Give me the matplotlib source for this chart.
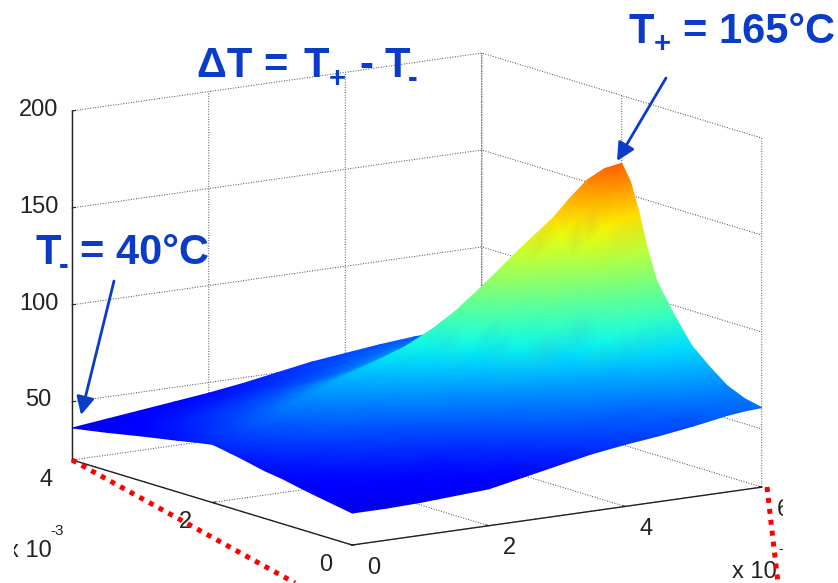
import numpy as np
import matplotlib
matplotlib.use('Agg')
import matplotlib.pyplot as plt
from matplotlib.collections import TriMesh
from matplotlib.patches import Rectangle
from matplotlib.tri import Triangulation
from mpl_toolkits.mplot3d import proj3d

# values (x and y in units of 1e-3)
x_vals = [0, 0.5, 1, 1.5, 2, 2.5, 3, 3.5, 4, 4.5, 5, 5.25, 5.5, 5.75, 6]
y_vals = [0, 0.25, 0.5, 0.75, 1, 1.25, 1.5, 1.625, 1.75, 1.875, 2, 2.25, 2.5, 3, 3.5, 4]
temps = [
    [36.5, 38.1, 39.7, 41.4, 43.3, 44.6, 46.6, 47.6, 48.4, 49.3, 50, 48.4, 46.6, 43.3, 39.7, 36.5],
    [36.5, 38.7, 40.9, 43.2, 45.9, 48, 51, 52.5, 53.8, 55.3, 56.5, 54.1, 51.5, 47, 42.5, 38.5],
    [37, 39.6, 42.2, 45.1, 48.4, 51.3, 55.2, 57.3, 59.1, 61.2, 63, 59.6, 56.3, 50.4, 45, 40.5],
    [38, 40.8, 43.6, 46.8, 50.6, 54.1, 58.9, 61.6, 63.9, 66.5, 69, 64.6, 60.4, 53.2, 47.3, 42.5],
    [39, 42, 44.9, 48.6, 52.7, 57.1, 63, 66.4, 69.3, 72.7, 76, 70.3, 65, 56.2, 49.5, 44.5],
    [42.5, 45.3, 48.2, 52, 56.1, 60.9, 67.2, 70.9, 74.5, 78.2, 82, 75.4, 68.9, 59.1, 52.1, 47],
    [46, 48.6, 51.5, 55.4, 59.6, 64.7, 71.5, 75.8, 80, 84.3, 88.5, 80.8, 73.1, 62.3, 55, 50],
    [49.5, 52.1, 55.2, 59.4, 64.1, 70.1, 78, 83.2, 88.9, 94.3, 99, 89.6, 79.5, 66.6, 58.3, 53],
    [52, 54.7, 58.1, 63, 68.5, 75.8, 85.6, 92.3, 100.2, 107.5, 113, 100.8, 86.9, 70.7, 60.8, 55],
    [54, 56.7, 60.7, 66.2, 72.5, 81.8, 93.2, 101.7, 112.1, 121.3, 128, 112.7, 94.6, 74.8, 63.4, 57],
    [56.5, 59.1, 63.3, 69.3, 76.2, 87.3, 100.1, 110.4, 123.2, 134.3, 142, 123.6, 101.1, 77.7, 65.2, 58.5],
    [58, 60.5, 65, 71.4, 78.6, 90.7, 104.5, 116.1, 130.5, 142.9, 151, 130.8, 105, 79.4, 65.9, 59],
    [59.5, 62, 66.5, 73.1, 80.9, 93.8, 108.3, 121.2, 137.1, 150.5, 159, 137.2, 108.5, 81.3, 66.9, 60],
    [60.5, 62.8, 67.2, 73.9, 81.8, 95.2, 109.9, 123.8, 140.8, 155, 163.5, 140.8, 109.9, 81.8, 67.2, 60.5],
    [61, 63, 67, 74, 82, 95, 110, 124, 142, 157, 165, 142, 110, 82, 67, 61],
]
x_ticks = [0, 2, 4, 6]
y_ticks = [0, 2, 4]
z_ticks = [50, 100, 150, 200]

BLUE = '#0a3cc8'
INK = '#222222'

plt.rcParams['font.family'] = ['Liberation Sans', 'DejaVu Sans']
plt.rcParams['grid.linestyle'] = ':'
plt.rcParams['grid.linewidth'] = 0.7
plt.rcParams['grid.color'] = '#444444'

fig = plt.figure(figsize=(8.38, 5.83), dpi=100)
ax = fig.add_axes([24.5 / 838, -108.5 / 583, 764.3 / 838, 764.3 / 583], projection='3d', proj_type='ortho')
ax.patch.set_visible(False)
ax.view_init(elev=11.96, azim=-124.3)
ax.set_box_aspect((496, 497, 357))
ax.set_xlim(0, 6, view_margin=0)
ax.set_ylim(0, 4, view_margin=0)
ax.set_zlim(20, 200, view_margin=0)
ax.set_xticks(x_ticks)
ax.set_yticks(y_ticks)
ax.set_zticks(z_ticks)
ax.grid(True)
for axis in (ax.xaxis, ax.yaxis, ax.zaxis):
    axis.set_pane_color((1, 1, 1, 0))
    axis.pane.set_edgecolor('none')
    axis.line.set_color(INK)
    axis.line.set_linewidth(1)
    axis._axinfo['tick']['inward_factor'] = 0
    axis._axinfo['tick']['outward_factor'] = 0.1
    axis.set_tick_params(labelsize=17, colors=INK, width=0.8)
ax.tick_params(axis='z', pad=6)
ax.tick_params(axis='x', pad=7)
ax.tick_params(axis='y', pad=6)
for t in ax.xaxis.get_major_ticks():
    t.label1.set_va('center')
    t.label1.set_ha('left')
for t in ax.yaxis.get_major_ticks():
    t.label1.set_va('center')
    t.label1.set_ha('right')
for t in ax.zaxis.get_major_ticks():
    t.label1.set_va('center')

# surface: project the grid and let gouraud shading do the colours
grid_x, grid_y = np.meshgrid(x_vals, y_vals, indexing='ij')
grid_z = np.array(temps)
M = ax.get_proj()
px, py, pz = proj3d.proj_transform(grid_x.ravel(), grid_y.ravel(), grid_z.ravel(), M)
nx, ny = grid_z.shape
tris = []
for i in range(nx - 1):
    for j in range(ny - 1):
        a = i * ny + j
        b = a + 1
        c = a + ny
        d = c + 1
        tris.append([a, c, d])
        tris.append([a, d, b])
tris = np.array(tris)
tris = tris[np.argsort(-pz[tris].mean(axis=1))]
mesh = TriMesh(Triangulation(px, py, tris), cmap='jet', norm=plt.Normalize(20, 200),
               transform=ax.transData)
mesh.set_array(grid_z.ravel())
mesh.do_3d_projection = lambda: 0.0
ax.add_collection(mesh, autolim=False)

# overlay in pixel coordinates for the slide annotations
over = fig.add_axes([0, 0, 1, 1])
over.set_xlim(0, 838)
over.set_ylim(583, 0)
over.axis('off')

dots = dict(color='red', lw=3.6, ls=(0, (1, 1.2)), dash_capstyle='butt')
over.plot([72, 295], [460, 583], **dots)
over.text(777, 578, 'x 10', fontsize=17, color=INK, ha='right', va='baseline')
over.text(778, 553, '-3', fontsize=11, color=INK, va='baseline')
over.text(52, 557, 'x 10', fontsize=17, color=INK, ha='right', va='baseline')
over.text(50, 535, '-3', fontsize=11, color=INK, va='baseline')
# the slide crops these labels
over.add_patch(Rectangle((783, 492), 55, 91, color='white', lw=0, zorder=5))
over.add_patch(Rectangle((0, 535), 14, 30, color='white', lw=0, zorder=5))
over.plot([767, 778], [487, 583], zorder=6, **dots)

big = dict(fontsize=30, color=BLUE, fontweight='bold', va='baseline')
small = dict(fontsize=21, color=BLUE, fontweight='bold', va='baseline')
over.text(197, 77, 'ΔT =', **big)
over.text(303, 77, 'T', **big)
over.text(329, 87, '+', **small)
over.text(359, 77, '-', **big)
over.text(384, 77, 'T', **big)
over.text(408, 87, '-', **small)
over.text(628, 43, 'T', **big)
over.text(654, 52, '+', **small)
over.text(683, 43, '= 165°C', **big)
over.text(35, 264, 'T', **big)
over.text(59, 274, '-', **small)
over.text(80, 264, '= 40°C', **big)

arrow_kw = dict(arrowstyle='-|>,head_width=0.45,head_length=0.9', mutation_scale=12,
                color=BLUE, lw=2, shrinkA=0, shrinkB=0)
over.annotate('', xy=(617, 161), xytext=(666, 78), arrowprops=arrow_kw)
over.annotate('', xy=(81, 415), xytext=(114, 281), arrowprops=arrow_kw)

fig.savefig('out.png', dpi=100)
